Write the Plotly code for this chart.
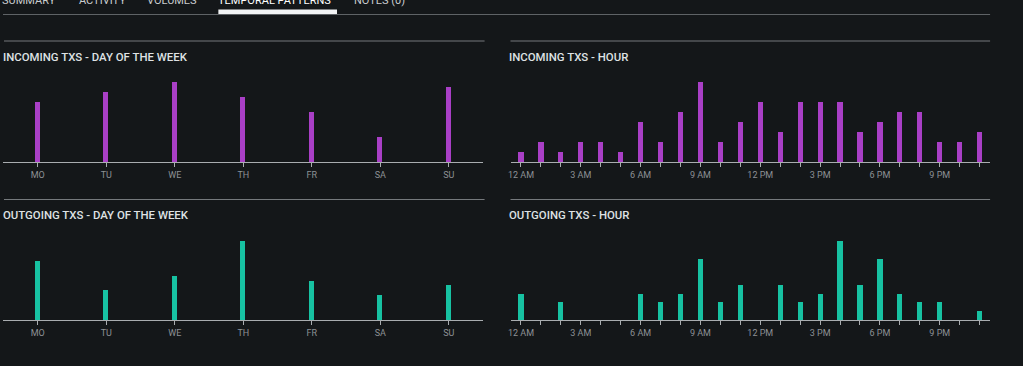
import plotly.graph_objects as go

W, H = 1023, 366

days = ["MO", "TU", "WE", "TH", "FR", "SA", "SU"]
hours = list(range(24))
hour_labels = ["12 AM", "", "", "3 AM", "", "", "6 AM", "", "", "9 AM", "", "",
               "12 PM", "", "", "3 PM", "", "", "6 PM", "", "", "9 PM", "", ""]

in_day = [12, 14, 16, 13, 10, 5, 15]
in_hour = [1, 2, 1, 2, 2, 1, 4, 2, 5, 8, 2, 4, 6, 3, 6, 6, 6, 3, 4, 5, 5, 2, 2, 3]
out_day = [12, 6, 9, 16, 8, 5, 7]
out_hour = [3, 0, 2, 0, 0, 0, 3, 2, 3, 7, 2, 4, 0, 4, 2, 3, 9, 4, 7, 3, 2, 2, 0, 1]

tabs = ["SUMMARY", "ACTIVITY", "VOLUMES", "TEMPORAL PATTERNS", "NOTES (0)"]
tab_x = [0, 77, 145, 217, 353]
titles = ["INCOMING TXS - DAY OF THE WEEK", "INCOMING TXS - HOUR",
          "OUTGOING TXS - DAY OF THE WEEK", "OUTGOING TXS - HOUR"]

PURPLE = "#a93fc6"
TEAL = "#17c2a2"
BG = "#141719"
FONT = "Roboto"


def px(x):
    return x / W


def py(y):
    return 1 - y / H


fig = go.Figure()

fig.add_trace(go.Bar(x=days, y=in_day, width=0.075, marker_color=PURPLE,
                     marker_line_width=0, xaxis="x", yaxis="y"))
fig.add_trace(go.Bar(x=hours, y=in_hour, width=0.26, marker_color=PURPLE,
                     marker_line_width=0, xaxis="x2", yaxis="y2"))
fig.add_trace(go.Bar(x=days, y=out_day, width=0.075, marker_color=TEAL,
                     marker_line_width=0, xaxis="x3", yaxis="y3"))
fig.add_trace(go.Bar(x=hours, y=out_hour, width=0.26, marker_color=TEAL,
                     marker_line_width=0, xaxis="x4", yaxis="y4"))

LEFT = [px(0.5), px(481.5)]
RIGHT = [px(509.5), px(989.5)]
TOP = [py(162), py(82)]
BOT = [py(320), py(241)]

xcommon = dict(showline=True, linecolor="#a9adb0", linewidth=1, ticks="outside",
               ticklen=4, tickcolor="#a9adb0", showgrid=False, zeroline=False,
               tickfont=dict(family=FONT, size=9, color="#8d9195"), fixedrange=True)
ycommon = dict(visible=False, showgrid=False, zeroline=False, fixedrange=True)

fig.update_layout(
    width=W, height=H,
    margin=dict(l=0, r=0, t=0, b=0),
    paper_bgcolor=BG, plot_bgcolor=BG,
    showlegend=False,
    bargap=0,
    xaxis=dict(domain=LEFT, anchor="y", type="category", range=[-0.5, 6.5], **xcommon),
    yaxis=dict(domain=TOP, anchor="x", range=[0, 16], **ycommon),
    xaxis2=dict(domain=RIGHT, anchor="y2", range=[-0.5, 23.5], tickmode="array",
                tickvals=hours, ticktext=hour_labels, **xcommon),
    yaxis2=dict(domain=TOP, anchor="x2", range=[0, 8], **ycommon),
    xaxis3=dict(domain=LEFT, anchor="y3", type="category", range=[-0.5, 6.5], **xcommon),
    yaxis3=dict(domain=BOT, anchor="x3", range=[0, 16], **ycommon),
    xaxis4=dict(domain=RIGHT, anchor="y4", range=[-0.5, 23.5], tickmode="array",
                tickvals=hours, ticktext=hour_labels, **xcommon),
    yaxis4=dict(domain=BOT, anchor="x4", range=[0, 9], **ycommon),
)

shapes = []
# tab bar separator
shapes.append(dict(type="line", xref="paper", yref="paper", x0=px(0), x1=px(990),
                   y0=py(14.5), y1=py(14.5), line=dict(color="#5f6366", width=1)))
# active tab underline
shapes.append(dict(type="rect", xref="paper", yref="paper", x0=px(216), x1=px(335),
                   y0=py(14), y1=py(9.5), fillcolor="#f2f4f5", line=dict(width=0)))
# section separators
for (x0, x1) in [(1, 483), (509, 990)]:
    for y in [41, 199.5]:
        shapes.append(dict(type="line", xref="paper", yref="paper", x0=px(x0), x1=px(x1),
                           y0=py(y), y1=py(y), line=dict(color="#75797c", width=1)))
fig.update_layout(shapes=shapes)

annotations = []
for t, x in zip(tabs, tab_x):
    annotations.append(dict(text=t, x=px(x - 3), y=py(0.5), xref="paper", yref="paper",
                            xanchor="left", yanchor="middle", showarrow=False,
                            font=dict(family=FONT, size=11,
                                      color="#ffffff" if t == "TEMPORAL PATTERNS" else "#c9cccf")))
title_pos = [(-2, 57), (505, 57), (-2, 215), (505, 215)]
for t, (x, y) in zip(titles, title_pos):
    annotations.append(dict(text=t, x=px(x), y=py(y), xref="paper", yref="paper",
                            xanchor="left", yanchor="middle", showarrow=False,
                            font=dict(family=FONT, size=11.4, color="#dfe2e4", weight=500)))
fig.update_layout(annotations=annotations)

fig.write_html("out.html", config={"displayModeBar": False},
               post_script="document.body.style.margin='0';")
